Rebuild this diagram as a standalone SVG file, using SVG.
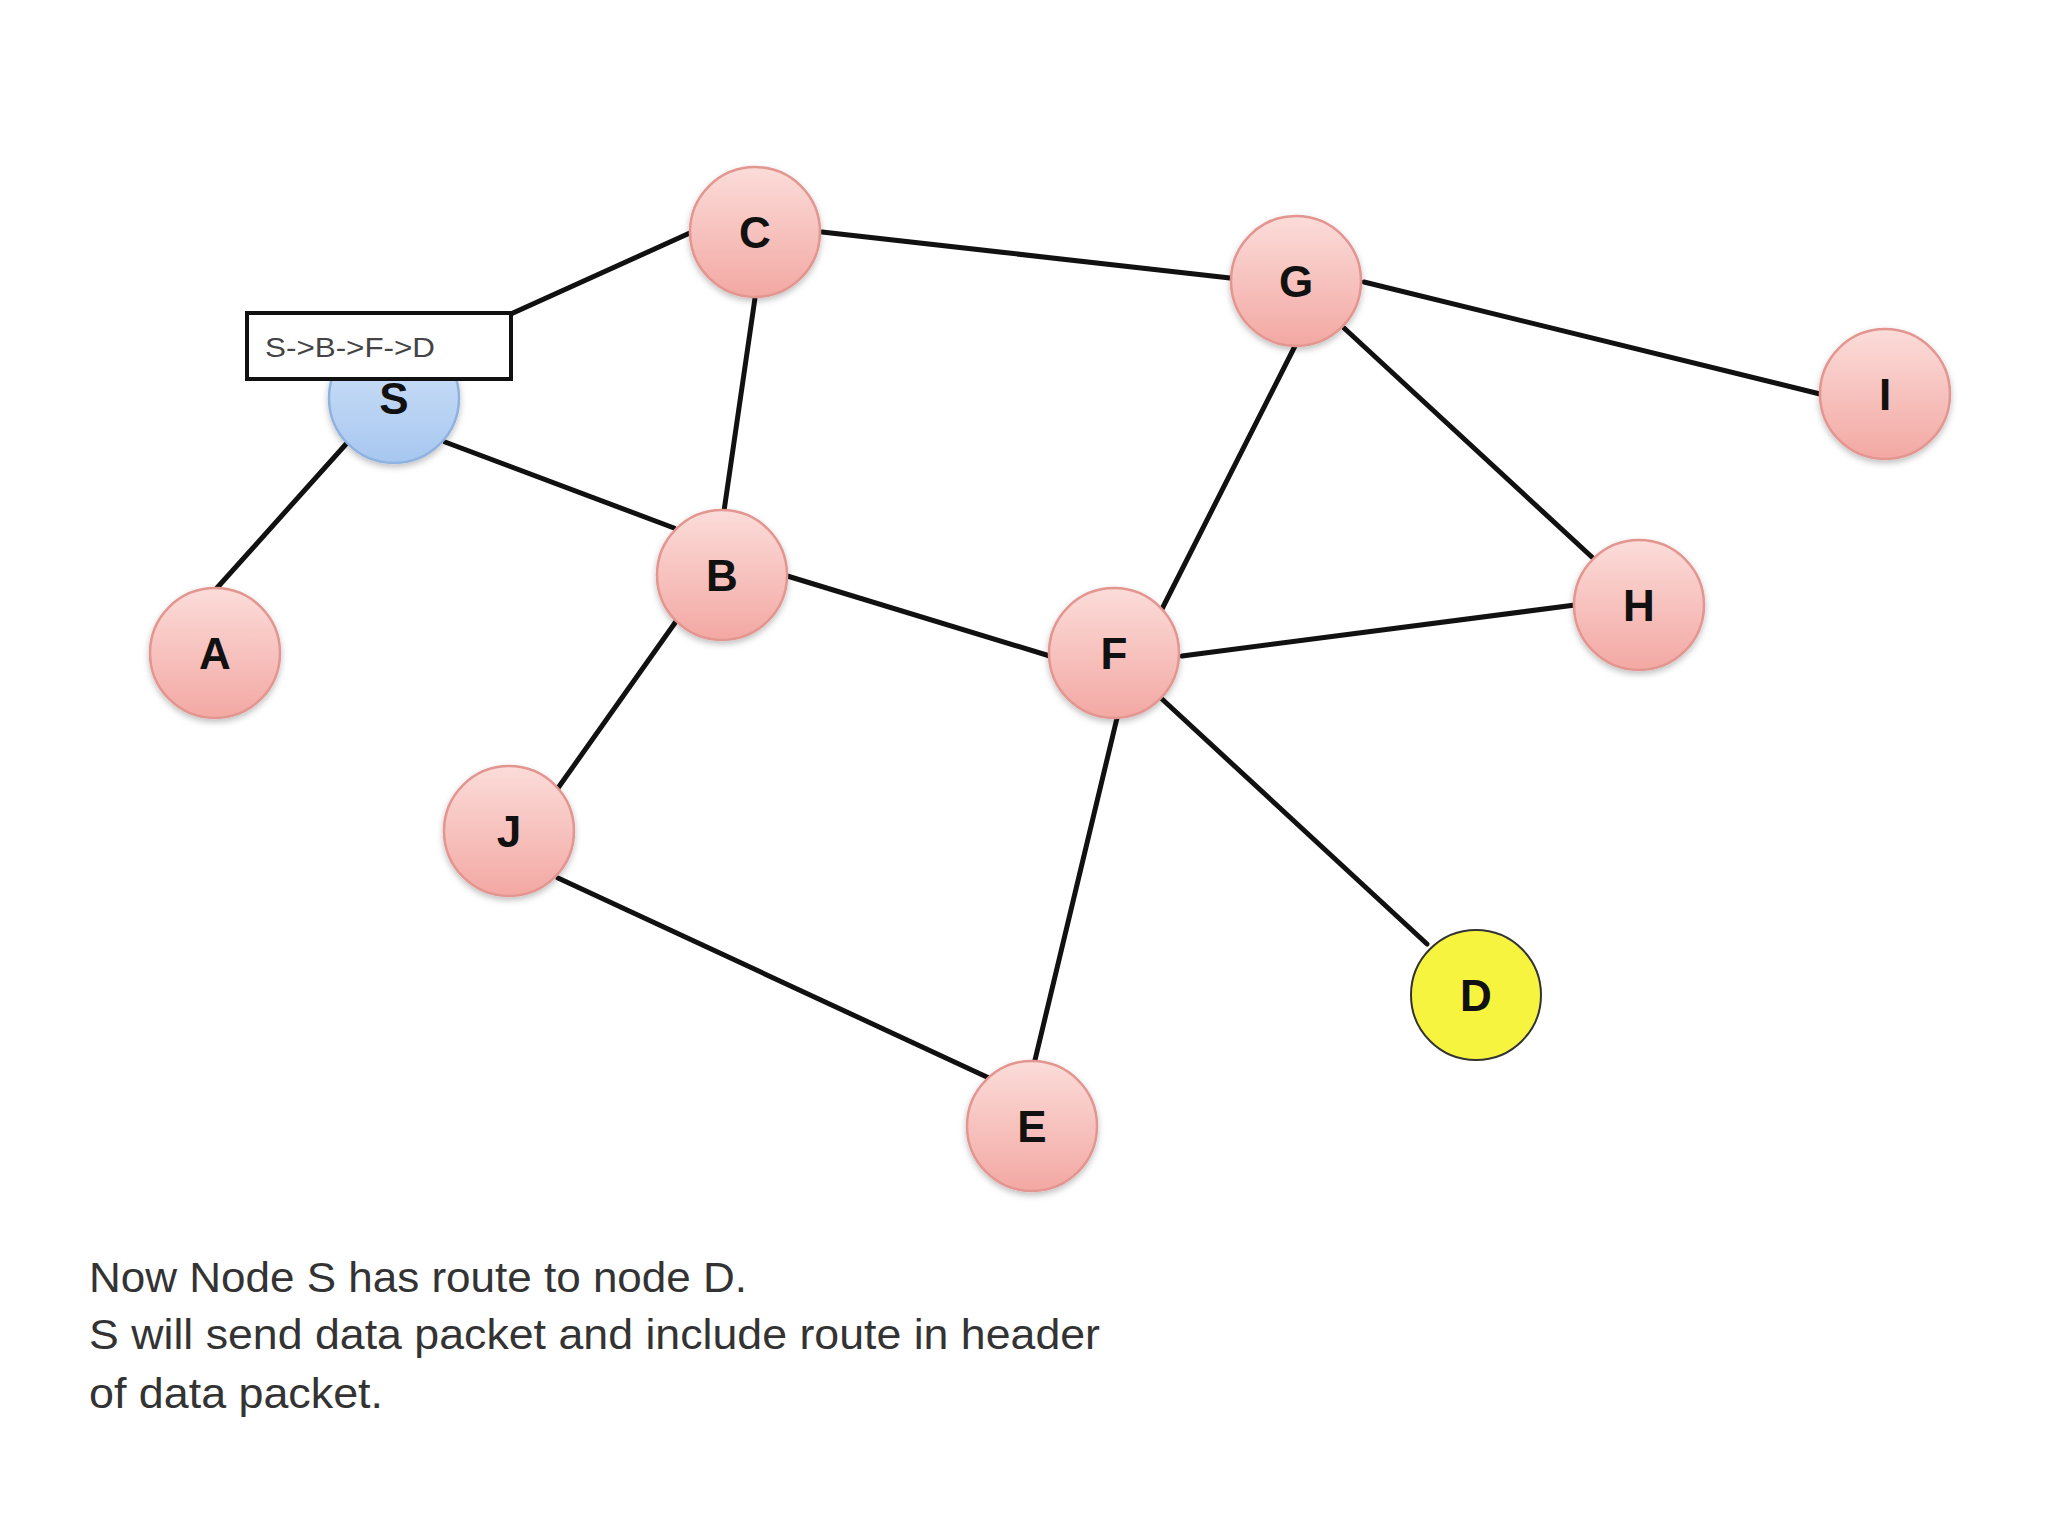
<svg xmlns="http://www.w3.org/2000/svg" width="2048" height="1536" viewBox="0 0 2048 1536">
<defs>
<linearGradient id="pink" x1="0" y1="0" x2="0" y2="1">
<stop offset="0" stop-color="#fbdcd9"/>
<stop offset="1" stop-color="#f3a8a3"/>
</linearGradient>
<linearGradient id="blue" x1="0" y1="0" x2="0" y2="1">
<stop offset="0" stop-color="#d3e4f9"/>
<stop offset="1" stop-color="#a7c7f0"/>
</linearGradient>
<filter id="sh" x="-30%" y="-30%" width="160%" height="160%">
<feDropShadow dx="0" dy="3" stdDeviation="3" flood-color="#000" flood-opacity="0.25"/>
</filter>
</defs>
<style>
.edge{stroke:#111;stroke-width:5;stroke-linecap:round;fill:none}
.n{stroke:#e39590;stroke-width:2.5;fill:url(#pink);filter:url(#sh)}
.lbl{font-family:"Liberation Sans",Arial,sans-serif;font-weight:bold;font-size:44px;fill:#111;text-anchor:middle}
.body{font-family:"Liberation Sans",Arial,sans-serif;font-size:42px;fill:#333}
</style>
<rect width="2048" height="1536" fill="#ffffff"/>
<g id="connectors">
<line class="edge" x1="347" y1="443" x2="216" y2="589"/>
<line class="edge" x1="445" y1="442" x2="674" y2="528"/>
<line class="edge" x1="480" y1="328" x2="692" y2="232"/>
<line class="edge" x1="755" y1="298" x2="724" y2="511"/>
<line class="edge" x1="822" y1="232" x2="1230" y2="278"/>
<line class="edge" x1="1364" y1="282" x2="1820" y2="394"/>
<line class="edge" x1="1295" y1="346" x2="1162" y2="609"/>
<line class="edge" x1="1344" y1="328" x2="1594" y2="559"/>
<line class="edge" x1="784" y1="575" x2="1053" y2="657"/>
<line class="edge" x1="677" y1="620" x2="558" y2="788"/>
<line class="edge" x1="1182" y1="656" x2="1575" y2="605"/>
<line class="edge" x1="1162" y1="699" x2="1427" y2="944"/>
<line class="edge" x1="1117" y1="718" x2="1035" y2="1060"/>
<line class="edge" x1="558" y1="878" x2="989" y2="1078"/>
</g>
<g id="node-S"><circle cx="394" cy="398" r="65" fill="url(#blue)" stroke="#8fb2e0" stroke-width="2.5" filter="url(#sh)"/><text class="lbl" x="394" y="414">S</text></g>
<g id="node-C"><circle class="n" cx="755" cy="232" r="65"/><text class="lbl" x="755" y="248">C</text></g>
<g id="node-G"><circle class="n" cx="1296" cy="281" r="65"/><text class="lbl" x="1296" y="297">G</text></g>
<g id="node-I"><circle class="n" cx="1885" cy="394" r="65"/><text class="lbl" x="1885" y="410">I</text></g>
<g id="node-B"><circle class="n" cx="722" cy="575" r="65"/><text class="lbl" x="722" y="591">B</text></g>
<g id="node-A"><circle class="n" cx="215" cy="653" r="65"/><text class="lbl" x="215" y="669">A</text></g>
<g id="node-F"><circle class="n" cx="1114" cy="653" r="65"/><text class="lbl" x="1114" y="669">F</text></g>
<g id="node-H"><circle class="n" cx="1639" cy="605" r="65"/><text class="lbl" x="1639" y="621">H</text></g>
<g id="node-J"><circle class="n" cx="509" cy="831" r="65"/><text class="lbl" x="509" y="847">J</text></g>
<g id="node-D"><circle cx="1476" cy="995" r="65" fill="#f6f43e" stroke="#333" stroke-width="2"/><text class="lbl" x="1476" y="1011">D</text></g>
<g id="node-E"><circle class="n" cx="1032" cy="1126" r="65"/><text class="lbl" x="1032" y="1142">E</text></g>
<g id="route-box">
<rect x="247" y="313" width="264" height="66" fill="#ffffff" stroke="#111" stroke-width="4"/>
<text x="265" y="357" font-family="'Liberation Sans',Arial,sans-serif" font-size="28" fill="#444" textLength="170" lengthAdjust="spacingAndGlyphs">S-&gt;B-&gt;F-&gt;D</text>
</g>
<g id="caption">
<text class="body" x="89" y="1292" textLength="658" lengthAdjust="spacingAndGlyphs">Now Node S has route to node D.</text>
<text class="body" x="89" y="1349" textLength="1011" lengthAdjust="spacingAndGlyphs">S will send data packet and include route in header</text>
<text class="body" x="89" y="1408" textLength="294" lengthAdjust="spacingAndGlyphs">of data packet.</text>
</g>
</svg>
